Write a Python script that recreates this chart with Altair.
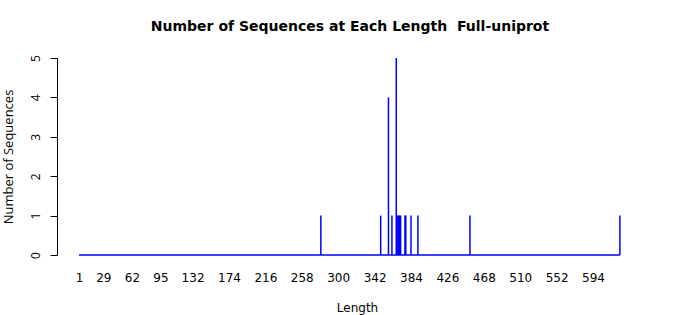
import altair as alt
import pandas as pd

lengths = [280, 349, 358, 362, 367, 368, 369, 370, 371, 372, 377, 378, 384, 392, 452, 625]
counts  = [1,   1,   4,   1,   5,   1,   1,   1,   1,   1,   1,   1,   1,   1,   1,   1]
x_ticks = [1, 29, 62, 95, 132, 174, 216, 258, 300, 342, 384, 426, 468, 510, 552, 594]
y_ticks = [0, 1, 2, 3, 4, 5]
length_range = [1, 625]

bars = pd.DataFrame({"Length": lengths, "Count": counts})
base_df = pd.DataFrame({"Length": [length_range[0]], "x2": [length_range[1]], "Count": [0]})

xs = alt.Scale(domain=[-24.4, 667.8], nice=False, zero=False)
ys = alt.Scale(domain=[0, 5], nice=False)

x_axis = alt.Axis(values=x_ticks, title="Length", format="d", domain=False,
                  ticks=False, grid=False, labelPadding=17, titlePadding=19,
                  labelOverlap=False,
                  labelFontSize=12, titleFontSize=12, labelColor="black",
                  titleColor="black", titleFontWeight="normal",
                  labelFont="DejaVu Sans", titleFont="DejaVu Sans")
y_axis = alt.Axis(values=y_ticks, title="Number of Sequences", format="d",
                  domainColor="black", tickColor="black", tickSize=7,
                  grid=False, labelAngle=270, labelAlign="center",
                  labelBaseline="bottom", labelPadding=8, titlePadding=14,
                  labelOverlap=False,
                  labelFontSize=12, titleFontSize=13, labelColor="black",
                  titleColor="black", titleFontWeight="normal",
                  labelFont="Open Sans", titleFont="Open Sans")

baseline = alt.Chart(base_df).mark_rule(color="#0000FF", strokeWidth=1.5).encode(
    x=alt.X("Length:Q", scale=xs, axis=x_axis),
    x2="x2:Q",
    y=alt.Y("Count:Q", scale=ys, axis=y_axis),
)

rules = alt.Chart(bars).mark_rule(color="#0000FF", strokeWidth=1.5).encode(
    x=alt.X("Length:Q", scale=xs, axis=x_axis),
    y=alt.Y("Count:Q", scale=ys, axis=y_axis),
    y2=alt.datum(0),
)

chart = alt.layer(baseline, rules).properties(
    width=600, height=197,
    background="white",
    autosize=alt.AutoSizeParams(type="none"),
    padding={"left": 57, "top": 58, "right": 43, "bottom": 60},
    title=alt.TitleParams("Number of Sequences at Each Length\u00a0 Full-uniprot",
                          font="DejaVu Sans", fontSize=14, fontWeight="bold",
                          color="black", offset=21, dx=-7),
).configure_view(stroke="transparent", strokeWidth=0)

chart.save("out.html", embed_options={"renderer": "svg", "actions": False})
